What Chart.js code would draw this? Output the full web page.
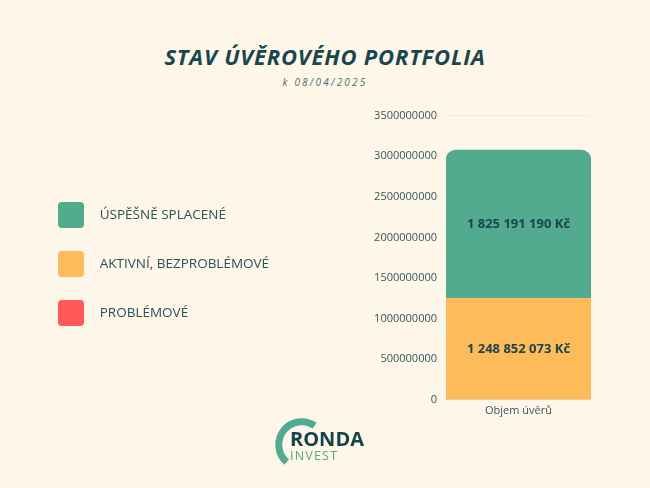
<!DOCTYPE html>
<html>
<head>
<meta charset="utf-8">
<script src="https://cdn.jsdelivr.net/npm/chart.js@4.4.1/dist/chart.umd.min.js"></script>
<style>
  body { margin: 0; background: #fef6e9; font-family: "Open Sans", sans-serif; }
  #page { position: relative; width: 650px; height: 488px; overflow: hidden; }
  #title { position: absolute; left: 0; top: 41px; width: 650px; text-align: center;
    font-size: 22px; font-weight: 700; font-style: italic; letter-spacing: 0.8px; color: #18464e; }
  #sub { position: absolute; left: 0; top: 75px; width: 650px; text-align: center;
    font-size: 10px; font-style: italic; letter-spacing: 2.2px; color: #4d6c70; }
  #wrap { position: absolute; left: 0; top: 100px; width: 650px; height: 325px; }
  #logo { position: absolute; left: 270px; top: 414px; width: 110px; height: 56px; }
  #logo .r { position: absolute; left: 20px; top: 11px; font-size: 20px; font-weight: 700; color: #16434b; }
  #logo .i { position: absolute; left: 20px; top: 33px; font-size: 12.5px; color: #52ab8e; letter-spacing: 1.2px; }
</style>
</head>
<body>
<div id="page">
  <div id="title">STAV ÚVĚROVÉHO PORTFOLIA</div>
  <div id="sub">k 08/04/2025</div>
  <div id="wrap"><canvas id="chart"></canvas></div>
  <div id="logo">
    <svg width="50" height="56" style="position:absolute;left:0;top:0">
      <path d="M 44.7 11.7 A 23 23 0 0 0 16.7 48.1" fill="none" stroke="#52ab8e" stroke-width="7"/>
    </svg>
    <span class="r">RONDA</span>
    <span class="i">INVEST</span>
  </div>
</div>
<script>
// data
const categories = ["Objem úvěrů"];
const aktivni = [1248852073];
const splacene = [1825191190];
const problemove = [0];
const yMax = 3500000000;
const yStep = 500000000;

Chart.defaults.font.family = "'Open Sans', sans-serif";
Chart.defaults.color = "#34575c";

function formatKc(v) {
  return String(v).replace(/\B(?=(\d{3})+(?!\d))/g, " ") + " Kč";
}

// legend wider so the gap to the axis matches
const legendWidth = {
  id: "legendWidth",
  beforeInit(chart) {
    if (!chart.legend) return;
    const fit = chart.legend.fit;
    chart.legend.fit = function () {
      fit.call(this);
      this.width = 331;
    };
  }
};

// amounts written inside the bars
const segmentLabels = {
  id: "segmentLabels",
  afterDatasetsDraw(chart) {
    const ctx = chart.ctx;
    ctx.save();
    ctx.font = "bold 13px 'Open Sans'";
    ctx.fillStyle = "#1d454b";
    ctx.textAlign = "center";
    ctx.textBaseline = "middle";
    chart.data.datasets.forEach((ds, i) => {
      chart.getDatasetMeta(i).data.forEach((bar, j) => {
        const v = ds.data[j];
        if (!v) return;
        const p = bar.getCenterPoint();
        ctx.fillText(formatKc(v), p.x, p.y);
      });
    });
    ctx.restore();
  }
};

// legend order: splacené, aktivní, problémové (dataset index -> rank)
const legendRank = [1, 0, 2];

new Chart(document.getElementById("chart"), {
  type: "bar",
  data: {
    labels: categories,
    datasets: [
      {
        label: "AKTIVNÍ, BEZPROBLÉMOVÉ",
        data: aktivni,
        backgroundColor: "#fdbc59",
        borderWidth: 0
      },
      {
        label: "ÚSPĚŠNĚ SPLACENÉ",
        data: splacene,
        backgroundColor: "#52ab8e",
        borderWidth: 0,
        borderRadius: { topLeft: 10, topRight: 10, bottomLeft: 0, bottomRight: 0 },
        borderSkipped: false
      },
      {
        label: "PROBLÉMOVÉ",
        data: problemove,
        backgroundColor: "#ff5857",
        borderWidth: 0,
        inflateAmount: 0
      }
    ]
  },
  options: {
    responsive: true,
    maintainAspectRatio: false,
    animation: false,
    layout: { padding: { left: 35, top: 7, bottom: 4, right: 59 } },
    datasets: { bar: { barPercentage: 1, categoryPercentage: 1 } },
    scales: {
      x: {
        stacked: true,
        grid: { display: false, drawTicks: false },
        border: { color: "rgba(0,0,0,0.04)" },
        ticks: { font: { size: 11 }, color: "#34575c", padding: 4 }
      },
      y: {
        stacked: true,
        min: 0,
        max: yMax,
        afterFit(scale) { scale.width = 80; },
        grid: { color: "rgba(0,0,0,0.045)", drawTicks: false },
        border: { display: false },
        ticks: {
          stepSize: yStep,
          padding: 9,
          font: { size: 11 },
          color: "#34575c",
          callback: v => String(v)
        }
      }
    },
    plugins: {
      tooltip: { enabled: false },
      legend: {
        position: "left",
        labels: {
          boxWidth: 26,
          boxHeight: 26,
          padding: 23,
          useBorderRadius: true,
          borderRadius: 4,
          color: "#2b5258",
          font: { size: 13.5 },
          generateLabels(chart) {
            const items = Chart.defaults.plugins.legend.labels.generateLabels(chart);
            items.forEach(it => { it.text = "\u2002\u2009" + it.text; });
            return items;
          },
          sort: (a, b) => legendRank[a.datasetIndex] - legendRank[b.datasetIndex]
        }
      }
    }
  },
  plugins: [legendWidth, segmentLabels]
});
</script>
</body>
</html>
